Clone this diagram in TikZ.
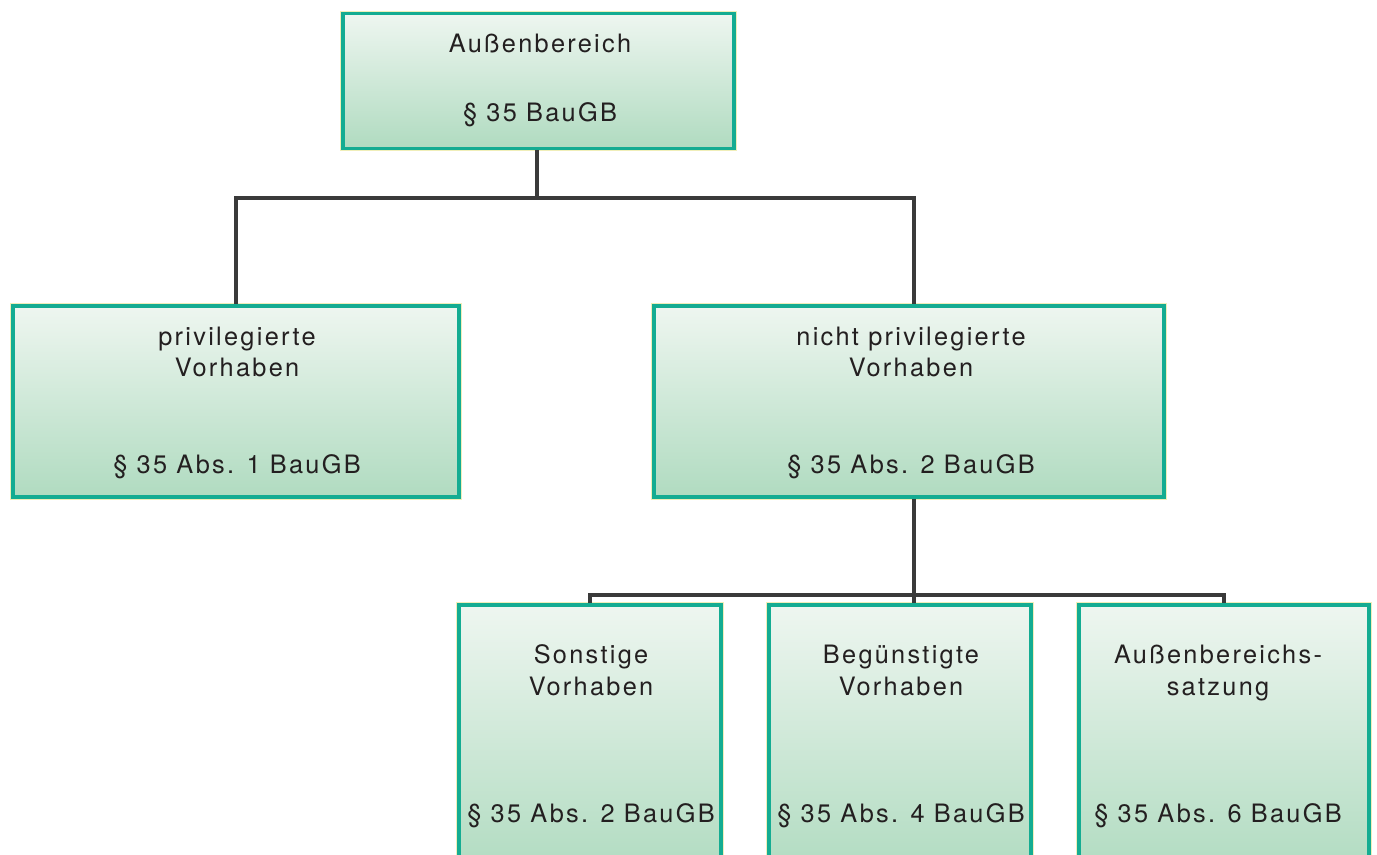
\documentclass[tikz,border=0pt]{standalone}
\usepackage{fontspec}
\setmainfont{TeX Gyre Heros}[LetterSpace=9]
\usetikzlibrary{calc}

\definecolor{rand}{RGB}{20,172,146}
\definecolor{glanz}{RGB}{240,238,185}
\definecolor{oben}{RGB}{238,246,240}
\definecolor{unten}{RGB}{176,219,192}
\definecolor{linie}{RGB}{58,58,58}
\definecolor{schrift}{RGB}{35,31,32}

\begin{document}
\begin{tikzpicture}[x=0.75pt,y=-0.75pt,
  kasten/.style={rectangle,draw=rand,line width=2.8pt,inner sep=0pt,
    top color=oben,bottom color=unten,
    preaction={draw=glanz,line width=4.2pt}},
  txt/.style={anchor=base,text=schrift,inner sep=0pt,
    font=\fontsize{19}{23}\selectfont},
  verb/.style={draw=linie,line width=2.3pt}]
\clip (0,0) rectangle (1377,855);
\fill[white] (0,0) rectangle (1377,855);
% boxes
\node[kasten,minimum width=0.75pt*391,minimum height=0.75pt*135] (top) at (538.5,81) {};
\node[kasten,minimum width=0.75pt*446,minimum height=0.75pt*191] (pv) at (236,401.5) {};
\node[kasten,minimum width=0.75pt*510,minimum height=0.75pt*191] (npv) at (909,401.5) {};
\node[kasten,minimum width=0.75pt*262,minimum height=0.75pt*270] (sv) at (590,740) {};
\node[kasten,minimum width=0.75pt*262,minimum height=0.75pt*270] (bv) at (900,740) {};
\node[kasten,minimum width=0.75pt*290,minimum height=0.75pt*270] (as) at (1224,740) {};
% texts
\node[txt] (top-a) at (540,53) {Außenbereich};
\node[txt] (top-b) at (540,122) {§ 35 BauGB};
\node[txt] (pv-a) at (237,345) {privilegierte};
\node[txt] (pv-b) at (237,377) {Vorhaben};
\node[txt] (pv-c) at (237,473) {§ 35 Abs. 1 BauGB};
\node[txt] (npv-a) at (911,345) {nicht privilegierte};
\node[txt] (npv-b) at (911,377) {Vorhaben};
\node[txt] (npv-c) at (911,473) {§ 35 Abs. 2 BauGB};
\node[txt] (sv-a) at (591,663) {Sonstige};
\node[txt] (sv-b) at (591,695) {Vorhaben};
\node[txt] (sv-c) at (591,822) {§ 35 Abs. 2 BauGB};
\node[txt] (bv-a) at (901,663) {Begünstigte};
\node[txt] (bv-b) at (901,695) {Vorhaben};
\node[txt] (bv-c) at (901,822) {§ 35 Abs. 4 BauGB};
\node[txt] (as-a) at (1218,663) {Außenbereichs-};
\node[txt] (as-b) at (1218,695) {satzung};
\node[txt] (as-c) at (1218,822) {§ 35 Abs. 6 BauGB};
% connectors
\coordinate (j1) at (537,198);
\coordinate (j2) at (914,595);
\draw[verb] (top.south -| j1) -- (j1);
\draw[verb] (pv.north) |- (j1) -| (npv.north -| j2);
\draw[verb] (npv.south -| j2) -- (j2);
\draw[verb] (sv.north) |- (j2) -| (as.north);
\draw[verb] (j2) -- (bv.north -| j2);
\end{tikzpicture}
\end{document}
